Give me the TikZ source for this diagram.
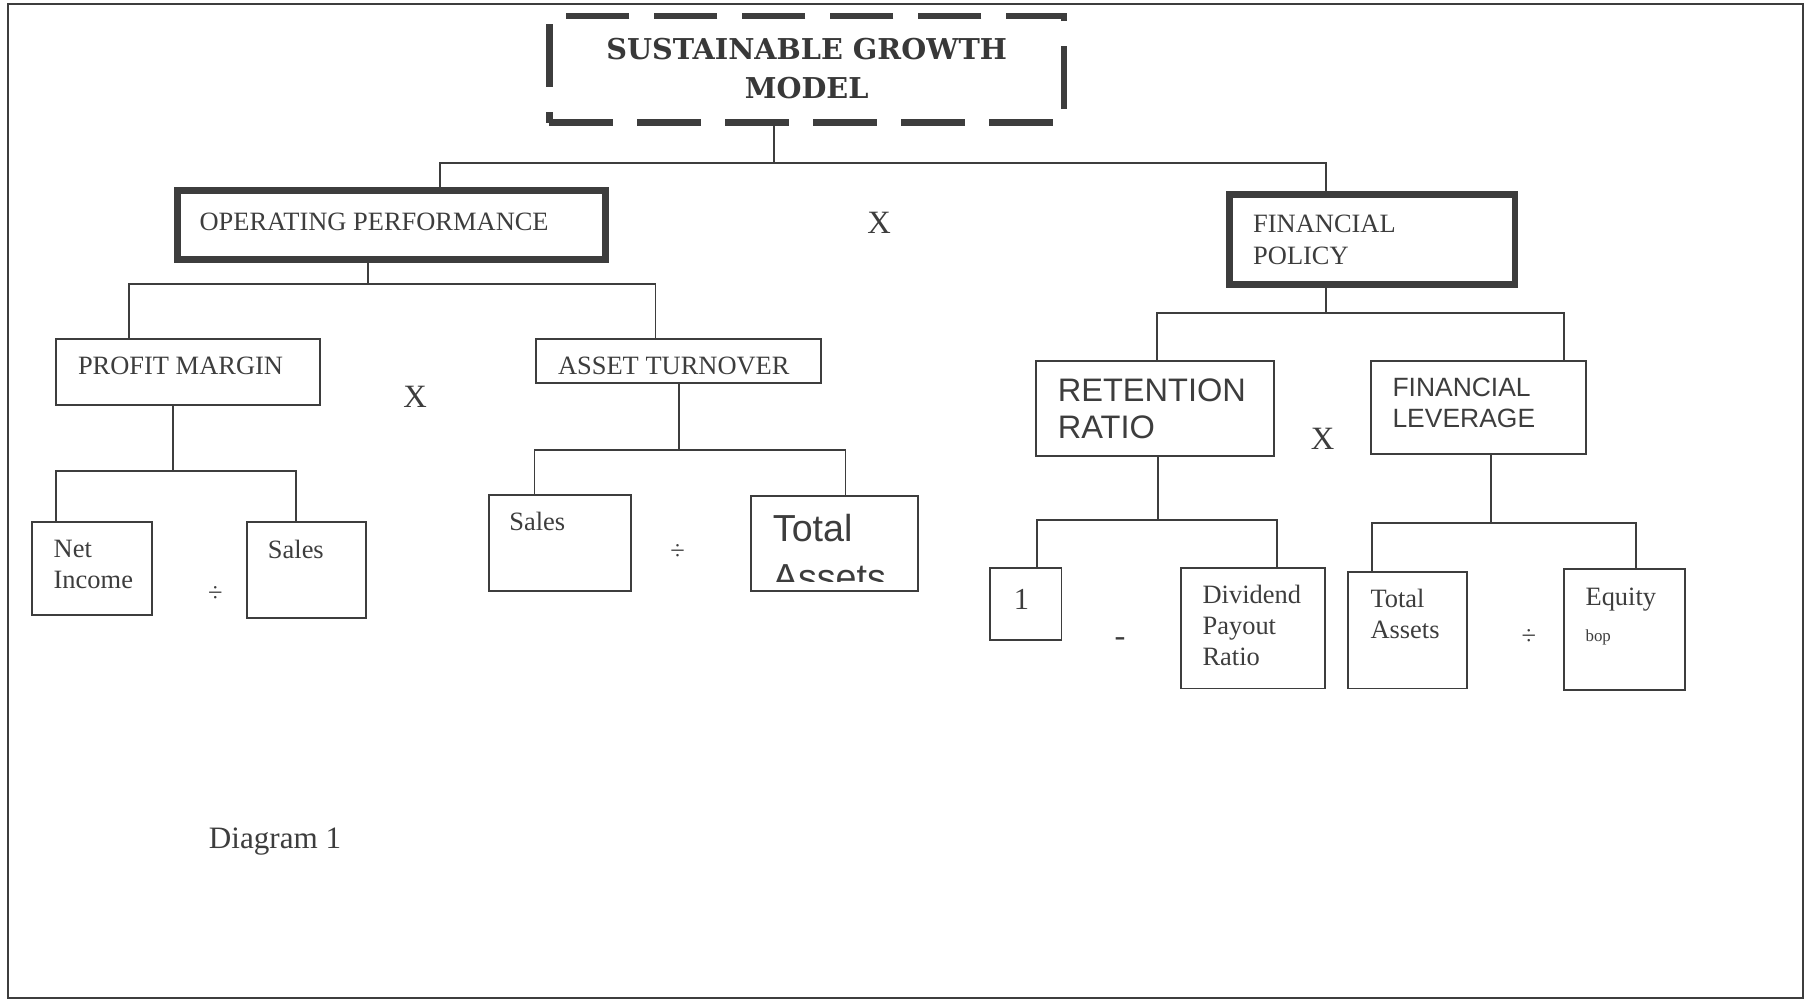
\documentclass[tikz,border=0pt]{standalone}
\usepackage{fontspec}
\setmainfont{Liberation Serif}
\setsansfont{Liberation Sans}
\newfontfamily\titlefont{DejaVu Serif}
\usetikzlibrary{positioning,fit}
\definecolor{ink}{gray}{0.24}

\begin{document}
\begin{tikzpicture}[
		x=0.02cm, y=-0.02cm,
		every node/.style={text=ink},
		box/.style={draw=ink, line width=0.95pt, inner sep=0pt},
		heavybox/.style={box, line width=3.3pt},
		titlebox/.style={box, line width=3.3pt, dash pattern=on 1.09cm off 0.43cm},
		txt/.style={anchor=base west, align=left, inner sep=0pt, font=\fontsize{13}{15.4}\selectfont},
		smalltxt/.style={txt, font=\fontsize{13}{15.4}\selectfont},
		sanstxt/.style={txt, font=\sffamily\fontsize{13}{15.5}\selectfont},
		bigsans/.style={txt, font=\sffamily\fontsize{16}{18.2}\selectfont},
		hugesans/.style={txt, font=\sffamily\fontsize{18.5}{24}\selectfont},
		opsign/.style={inner sep=0pt, font=\fontsize{16}{18}\selectfont},
		divsign/.style={inner sep=0pt, font=\fontsize{13}{15}\selectfont},
		link/.style={draw=ink, line width=0.95pt}
	]
	\useasboundingbox (0,0) rectangle (1568,864);
	\draw[ink, line width=0.85pt] (7,3.5) rectangle (1556.5,862);

	\node(sgm)[titlebox, fit={(474.4,13.8) (918.8,105.8)}] {};
	\node(sgmtxt)[anchor=base, align=center, inner sep=0pt, text=black!78,
		font=\titlefont\bfseries\fontsize{14.1}{19.2}\selectfont] at (696.5,85)
		{SUSTAINABLE GROWTH\\MODEL};
	\node(x1)[opsign] at (759,192) {X};

	\begin{scope}
		\node(op)[heavybox, fit={(153,164.6) (523,224)}] {};
		\node(optxt)[txt] at (172,199) {OPERATING PERFORMANCE};

		\node(pm)[box, fit={(48.5,292.5) (276,349.5)}] {};
		\node(pmtxt)[smalltxt] at (67,323) {PROFIT MARGIN};
		\node(at)[box, fit={(462.5,292.5) (709,331)}] {};
		\node(attxt)[smalltxt] at (481.5,323) {ASSET TURNOVER};
		\node(x2)[opsign] at (358.5,343) {X};

		\node(ni)[box, fit={(27.5,450.5) (131,531)}] {};
		\node(nitxt)[txt] at (46,508) {Net\\Income};
		\node(sl)[box, fit={(213.5,451) (316,534)}] {};
		\node(sltxt)[txt] at (231,482) {Sales};
		\node(d1)[divsign] at (186,513) {÷};

		\node(sa)[box, fit={(422,427.5) (544.5,510.5)}] {};
		\node(satxt)[txt] at (439.5,458) {Sales};
		\node(ta)[box, fit={(648.5,428) (792.5,510.5)}] {};
		\begin{scope}
			\clip (ta.north west) rectangle (ta.east |- 0,502);
			\node(tatxt)[hugesans] at (667,510) {Total\\Assets};
		\end{scope}
		\node(d2)[divsign] at (585,476.6) {÷};

		\coordinate (opbar) at (317.4,245);
		\draw[link] (op.south -| opbar) -- (opbar);
		\draw[link] (pm.north -| 111.4,0) |- (opbar) -| (at.north -| 566,0);
		\coordinate (pmbar) at (149,406.4);
		\draw[link] (pm.south -| pmbar) -- (pmbar);
		\draw[link] (ni.north -| 48.7,0) |- (pmbar) -| (sl.north -| 255.4,0);
		\coordinate (atbar) at (586,388.5);
		\draw[link] (at.south -| atbar) -- (atbar);
		\draw[link] (sa.north -| 461.5,0) |- (atbar) -| (ta.north -| 730,0);
	\end{scope}

	\begin{scope}
		\node(fp)[heavybox, fit={(1061.5,168) (1308,245.8)}] {};
		\node(fptxt)[txt] at (1081.7,228) {FINANCIAL\\POLICY};

		\node(rr)[box, fit={(894.5,311.5) (1100,394)}] {};
		\node(rrtxt)[bigsans] at (913,379) {RETENTION\\RATIO};
		\node(fl)[box, fit={(1184,311.5) (1369.5,392)}] {};
		\node(fltxt)[sanstxt] at (1202,369.5) {FINANCIAL\\LEVERAGE};
		\node(x3)[opsign] at (1142,378.7) {X};

		\node(one)[box, fit={(855,490.5) (916.5,553)}] {};
		\node(onetxt)[txt, font=\fontsize{15}{18}\selectfont] at (875,526) {1};
		\node(dpr)[box, fit={(1020,490.5) (1144,594.5)}] {};
		\node(dprtxt)[txt] at (1038,575) {Dividend\\Payout\\Ratio};
		\node(minus)[opsign] at (967,554.4) {-};

		\node(tat)[box, fit={(1164,493.5) (1267,594.5)}] {};
		\node(tattxt)[txt] at (1183,551.4) {Total\\Assets};
		\node(eq)[box, fit={(1350.5,491.5) (1454.5,596)}] {};
		\node(eqtxt)[txt] at (1368.7,522.6) {Equity};
		\node(boptxt)[txt, font=\fontsize{8.3}{10}\selectfont] at (1368.7,553.5) {bop};
		\node(d3)[divsign] at (1320,550.4) {÷};

		\coordinate (fpbar) at (1144.7,270);
		\draw[link] (fp.south -| fpbar) -- (fpbar);
		\draw[link] (rr.north -| 999,0) |- (fpbar) -| (fl.north -| 1350.5,0);
		\coordinate (rrbar) at (999.6,448.7);
		\draw[link] (rr.south -| rrbar) -- (rrbar);
		\draw[link] (one.north -| 895.5,0) |- (rrbar) -| (dpr.north -| 1102.6,0);
		\coordinate (flbar) at (1287.7,451.7);
		\draw[link] (fl.south -| flbar) -- (flbar);
		\draw[link] (tat.north -| 1185,0) |- (flbar) -| (eq.north -| 1412.7,0);
	\end{scope}

	\coordinate (top) at (668.3,141);
	\draw[link] (sgm.south -| top) -- (top);
	\draw[link] (op.north -| 380,0) |- (top) -| (fp.north -| 1145,0);

	\node(caption)[txt, font=\fontsize{15.3}{18}\selectfont] at (180,733) {Diagram 1};
\end{tikzpicture}
\end{document}
